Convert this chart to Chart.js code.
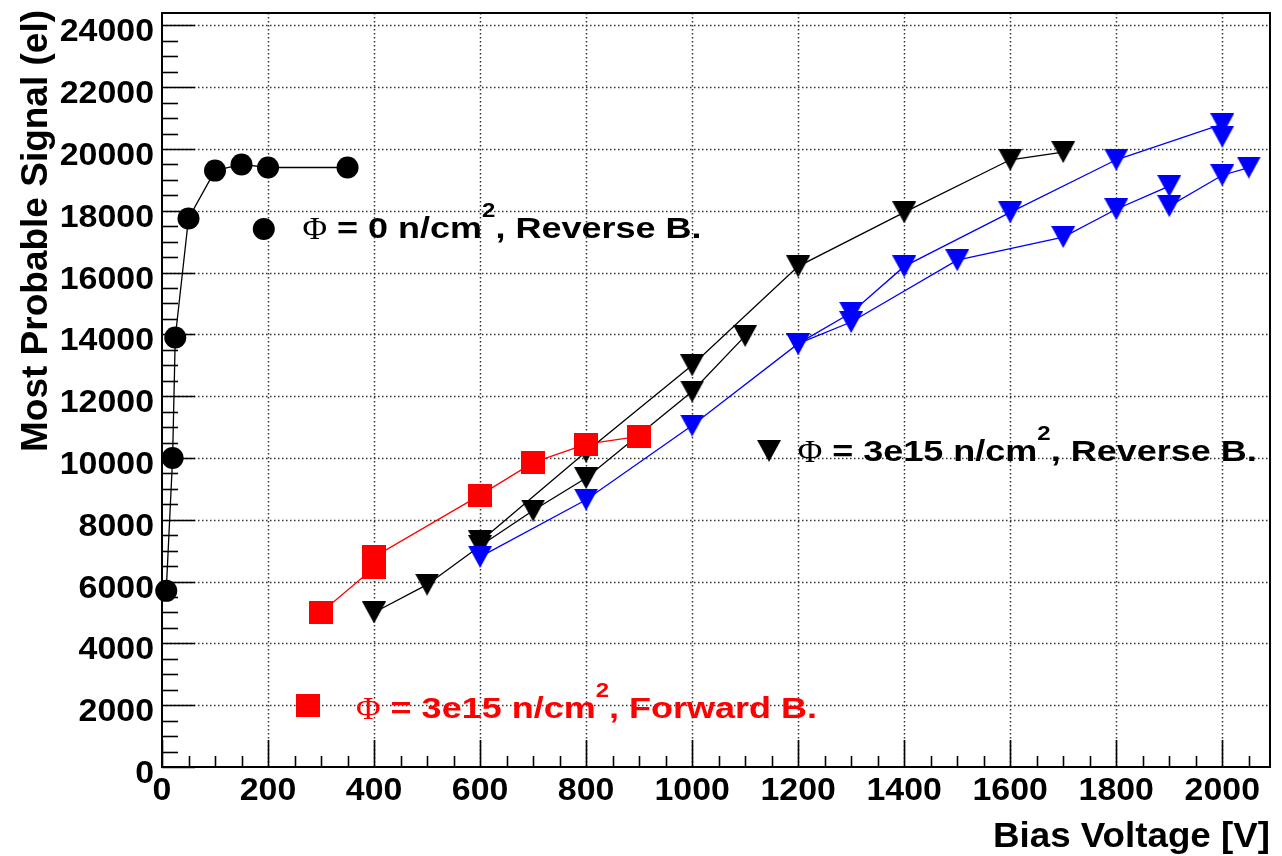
<!DOCTYPE html>
<html><head><meta charset="utf-8">
<script src="https://cdn.jsdelivr.net/npm/chart.js@4/dist/chart.umd.min.js"></script>
<style>html,body{margin:0;padding:0;background:#fff;} #wrap{width:1282px;height:856px;}</style>
</head><body><div id="wrap"><canvas id="c" width="1282" height="856"></canvas></div>
<script>
// ---- tick labels ----
const xTickValues = [0, 200, 400, 600, 800, 1000, 1200, 1400, 1600, 1800, 2000];
const xTickLabels = ['0', '200', '400', '600', '800', '1000', '1200', '1400', '1600', '1800', '2000'];
const yTickValues = [0, 2000, 4000, 6000, 8000, 10000, 12000, 14000, 16000, 18000, 20000, 22000, 24000];
const yTickLabels = ['0', '2000', '4000', '6000', '8000', '10000', '12000', '14000', '16000', '18000', '20000', '22000', '24000'];

// ---- series: Phi = 0, reverse bias (black circles) ----
const circleV = [8, 20, 25, 50, 100, 150, 200, 350];
const circleS = [5700, 10000, 13900, 17750, 19300, 19500, 19400, 19400];
// ---- Phi = 3e15, forward bias (red squares) ----
const redV = [300, 400, 400, 600, 700, 800, 900];
const redS = [5000, 6450, 6800, 8800, 9850, 10450, 10700];
// ---- Phi = 3e15, reverse bias (black triangles, two runs) ----
const blackAV = [400, 500, 600, 700, 800, 1000, 1100];
const blackAS = [5000, 5900, 7150, 8300, 9350, 12150, 13950];
const blackBV = [600, 800, 1000, 1200, 1400, 1600, 1700];
const blackBS = [7300, 10200, 13000, 16200, 17950, 19650, 19900];
// ---- blue triangles (two runs) ----
const blueAV = [600, 800, 1000, 1200, 1300, 1500, 1700, 1800, 1900, 1900, 2000, 2050];
const blueAS = [6800, 8650, 11050, 13700, 14400, 16400, 17150, 18050, 18800, 18150, 19150, 19400];
const blueBV = [1200, 1300, 1400, 1600, 1800, 2000, 2000];
const blueBS = [13700, 14700, 16200, 17950, 19650, 20800, 20400];

const xTitle = 'Bias Voltage [V]';
const yTitle = 'Most Probable Signal (el)';
const legendTexts = [
  {marker: 'circle', color: '#000000', pre: ' = 0 n/cm', post: ', Reverse B.'},
  {marker: 'tri', color: '#000000', pre: ' = 3e15 n/cm', post: ', Reverse B.'},
  {marker: 'square', color: '#ff0000', pre: ' = 3e15 n/cm', post: ', Forward B.'}
];
// annotation anchor positions (data units)
const legendPos = [
  {mx: 192, my: 17410, tx: 265, ty: 17120},
  {mx: 1145, my: 10230, tx: 1199, ty: 9900},
  {mx: 276, my: 1975, tx: 366, ty: 1590}
];

function pts(xs, ys) { return xs.map((x, i) => ({x: x, y: ys[i]})); }

function triCanvas(color) {
  const c = document.createElement('canvas');
  c.width = 24; c.height = 22;
  const g = c.getContext('2d');
  g.fillStyle = color;
  g.beginPath(); g.moveTo(0, 0); g.lineTo(24, 0); g.lineTo(12, 22); g.closePath(); g.fill();
  return c;
}
function sqCanvas(color) {
  const c = document.createElement('canvas');
  c.width = 24; c.height = 23;
  const g = c.getContext('2d');
  g.fillStyle = color; g.fillRect(0, 0, 24, 23);
  return c;
}
const triBlack = triCanvas('#000000');
const triBlue = triCanvas('#0000ff');
const sqRed = sqCanvas('#ff0000');

function ds(data, color, style, radius) {
  return {
    data: data, showLine: true, borderColor: color, borderWidth: 1.3, fill: false, tension: 0,
    pointStyle: style, pointRadius: radius, pointHoverRadius: radius,
    pointBackgroundColor: color, pointBorderColor: color, pointBorderWidth: 0, clip: false
  };
}

function sText(ctx, str, x, y, font, sx, align, color) {
  ctx.save();
  ctx.font = font; ctx.fillStyle = color; ctx.textBaseline = 'alphabetic'; ctx.textAlign = 'left';
  const w = ctx.measureText(str).width * sx;
  const x0 = align === 'right' ? x - w : (align === 'center' ? x - w / 2 : x);
  ctx.translate(x0, y); ctx.scale(sx, 1); ctx.fillText(str, 0, 0);
  ctx.restore();
  return w;
}

const rootPlugin = {
  id: 'rootStyle',
  beforeDatasetsDraw(chart) {
    const ctx = chart.ctx, a = chart.chartArea, xs = chart.scales.x, ys = chart.scales.y;
    ctx.save();
    // dotted grid
    ctx.strokeStyle = '#333'; ctx.lineWidth = 1.5; ctx.setLineDash([1.5, 2.5]);
    xTickValues.forEach(v => { if (v === 0) return; const px = Math.round(xs.getPixelForValue(v)) + 0.5;
      ctx.beginPath(); ctx.moveTo(px, a.top); ctx.lineTo(px, a.bottom); ctx.stroke(); });
    yTickValues.forEach(v => { if (v === 0) return; const py = Math.round(ys.getPixelForValue(v)) + 0.5;
      ctx.beginPath(); ctx.moveTo(a.left, py); ctx.lineTo(a.right, py); ctx.stroke(); });
    ctx.setLineDash([]);
    // frame
    ctx.strokeStyle = '#000'; ctx.lineWidth = 2;
    ctx.strokeRect(a.left, a.top, a.right - a.left, a.bottom - a.top);
    // ticks
    ctx.lineWidth = 1.6;
    for (let v = 0; v <= 2090; v += 50) {
      const px = Math.round(xs.getPixelForValue(v)) + 0.5;
      const len = (v % 200 === 0) ? 27 : 11;
      ctx.beginPath(); ctx.moveTo(px, a.bottom); ctx.lineTo(px, a.bottom - len); ctx.stroke();
    }
    for (let v = 0; v <= 24400; v += 500) {
      const py = Math.round(ys.getPixelForValue(v)) + 0.5;
      const len = (v % 2000 === 0) ? 33 : 16;
      ctx.beginPath(); ctx.moveTo(a.left, py); ctx.lineTo(a.left + len, py); ctx.stroke();
    }
    // tick labels
    const tf = 'bold 32px "Liberation Sans", Arial, sans-serif';
    xTickValues.forEach((v, i) => sText(ctx, xTickLabels[i], xs.getPixelForValue(v), a.bottom + 33, tf, 1.06, 'center', '#000'));
    yTickValues.forEach((v, i) => sText(ctx, yTickLabels[i], a.left - 8, ys.getPixelForValue(v) + 16, tf, 1.06, 'right', '#000'));
    // axis titles
    sText(ctx, xTitle, a.right, 847, 'bold 35px "Liberation Sans", Arial, sans-serif', 1.05, 'right', '#000');
    ctx.save();
    ctx.translate(47, 10); ctx.rotate(-Math.PI / 2);
    ctx.font = 'bold 37px "Liberation Sans", Arial, sans-serif'; ctx.fillStyle = '#000';
    ctx.textAlign = 'right'; ctx.textBaseline = 'alphabetic';
    ctx.fillText(yTitle, 0, 0);
    ctx.restore();
    ctx.restore();
  },
  afterDatasetsDraw(chart) {
    const ctx = chart.ctx, xs = chart.scales.x, ys = chart.scales.y;
    ctx.save();
    legendTexts.forEach((L, i) => {
      const p = legendPos[i];
      const mx = xs.getPixelForValue(p.mx), my = ys.getPixelForValue(p.my);
      ctx.fillStyle = L.color;
      if (L.marker === 'circle') { ctx.beginPath(); ctx.arc(mx, my, 11, 0, Math.PI * 2); ctx.fill(); }
      else if (L.marker === 'tri') { ctx.drawImage(triBlack, mx - 12, my - 11); }
      else { ctx.drawImage(sqRed, mx - 12, my - 11.5); }
      const F = 30, sx = 1.2;
      let x = xs.getPixelForValue(p.tx); const y = ys.getPixelForValue(p.ty);
      x += sText(ctx, '\u03A6', x, y + 1, `${Math.round(F * 1.08)}px "Liberation Serif", "Times New Roman", serif`, 1.05, 'left', L.color);
      x += sText(ctx, L.pre, x, y, `bold ${F}px "Liberation Sans", Arial, sans-serif`, sx, 'left', L.color);
      x += sText(ctx, '2', x, y - 21, `bold ${Math.round(F * 0.66)}px "Liberation Sans", Arial, sans-serif`, sx, 'left', L.color);
      sText(ctx, L.post, x, y, `bold ${F}px "Liberation Sans", Arial, sans-serif`, sx, 'left', L.color);
    });
    ctx.restore();
  }
};

new Chart(document.getElementById('c'), {
  type: 'scatter',
  data: {
    datasets: [
      ds(pts(redV, redS), '#ff0000', sqRed, 12),
      ds(pts(blueAV, blueAS), '#0000ff', triBlue, 12),
      ds(pts(blueBV, blueBS), '#0000ff', triBlue, 12),
      ds(pts(blackAV, blackAS), '#000000', triBlack, 12),
      ds(pts(blackBV, blackBS), '#000000', triBlack, 12),
      ds(pts(circleV, circleS), '#000000', 'circle', 11)
    ]
  },
  options: {
    responsive: false, animation: false, devicePixelRatio: 1,
    layout: {padding: {left: 0, right: 9, top: 13, bottom: 0}},
    plugins: {legend: {display: false}, tooltip: {enabled: false}},
    events: [],
    scales: {
      x: {type: 'linear', min: 0, max: 2090,
        grid: {display: false}, border: {display: false}, ticks: {display: false},
        afterBuildTicks: s => { s.ticks = xTickValues.map(v => ({value: v})); },
        afterFit: s => { s.height = 89; }},
      y: {type: 'linear', min: 0, max: 24400,
        grid: {display: false}, border: {display: false}, ticks: {display: false},
        afterBuildTicks: s => { s.ticks = yTickValues.map(v => ({value: v})); },
        afterFit: s => { s.width = 162; }}
    }
  },
  plugins: [rootPlugin]
});
</script>
</body></html>
